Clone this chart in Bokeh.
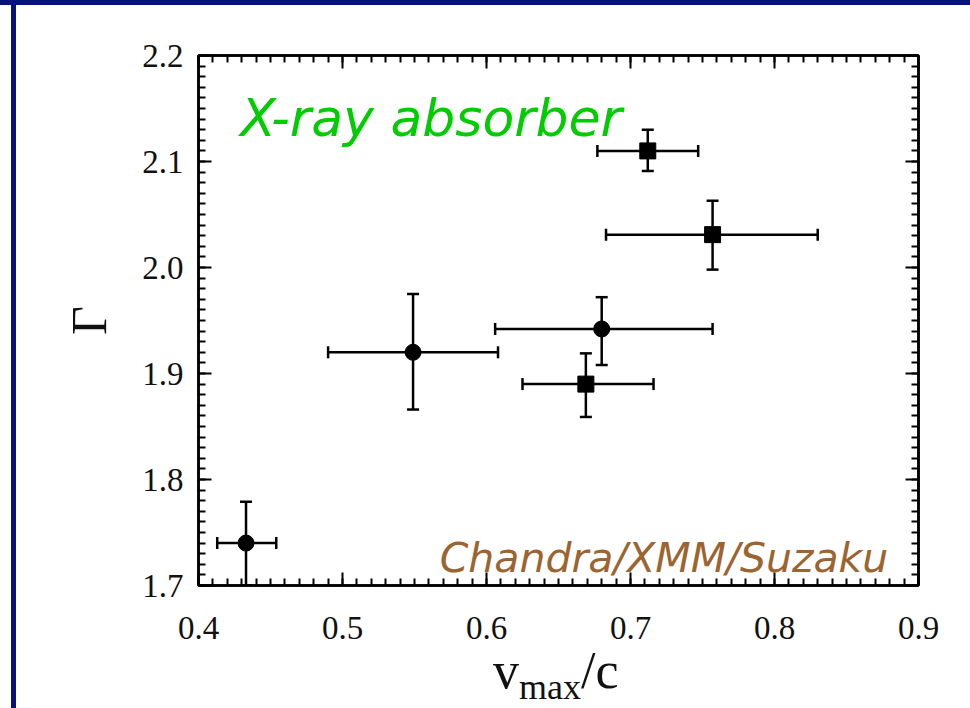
import numpy as np
from bokeh.plotting import figure
from bokeh.models import Range1d, FixedTicker, LinearAxis, Label, Div
from bokeh.layouts import column, row
from bokeh.embed import file_html
from bokeh.resources import INLINE

# ---- data ----
circ_x = [0.433, 0.549, 0.680]
circ_y = [1.740, 1.920, 1.942]
circ_xlo = [0.413, 0.490, 0.606]
circ_xhi = [0.454, 0.608, 0.757]
circ_ylo = [1.700, 1.866, 1.908]
circ_yhi = [1.779, 1.975, 1.972]

sq_x = [0.669, 0.712, 0.757]
sq_y = [1.890, 2.110, 2.031]
sq_xlo = [0.625, 0.677, 0.683]
sq_xhi = [0.716, 0.747, 0.830]
sq_ylo = [1.859, 2.091, 1.998]
sq_yhi = [1.919, 2.130, 2.063]

x_ticks = [0.4, 0.5, 0.6, 0.7, 0.8, 0.9]
x_tick_labels = ["0.4", "0.5", "0.6", "0.7", "0.8", "0.9"]
y_ticks = [1.7, 1.8, 1.9, 2.0, 2.1, 2.2]
y_tick_labels = ["1.7", "1.8", "1.9", "2.0", "2.1", "2.2"]

NAVY = "#05137a"
SERIF = "Liberation Serif"

p = figure(width=954, height=650, output_backend="svg", toolbar_location=None,
           x_range=Range1d(0.4, 0.9), y_range=Range1d(1.7, 2.2),
           min_border_left=182, min_border_right=52, min_border_top=50, min_border_bottom=70)
p.grid.visible = False
p.outline_line_color = "black"
p.outline_line_width = 2.5
p.background_fill_color = "white"
p.border_fill_color = "white"

x_minor = [round(v, 3) for v in np.arange(0.4, 0.9001, 0.01)]
y_minor = [round(v, 3) for v in np.arange(1.7, 2.2001, 0.01)]


def style_axis(ax, ticks, minor, labels, show_labels):
    ax.ticker = FixedTicker(ticks=ticks, minor_ticks=minor)
    ax.major_tick_in = 13
    ax.major_tick_out = 0
    ax.minor_tick_in = 7
    ax.minor_tick_out = 0
    ax.major_tick_line_width = 2
    ax.minor_tick_line_width = 2
    ax.axis_line_width = 2.5
    ax.major_tick_line_color = "black"
    ax.minor_tick_line_color = "black"
    ax.axis_line_color = "black"
    if show_labels:
        ax.major_label_overrides = {t: l for t, l in zip(ticks, labels)}
        ax.major_label_text_font = SERIF
        ax.major_label_text_font_size = "33px"
        ax.major_label_text_color = "#111111"
    else:
        ax.major_label_overrides = {t: "" for t in ticks}
        ax.major_label_standoff = 0


style_axis(p.xaxis[0], x_ticks, x_minor, x_tick_labels, True)
style_axis(p.yaxis[0], y_ticks, y_minor, y_tick_labels, True)
p.xaxis[0].major_label_standoff = 31
p.yaxis[0].major_label_standoff = 15

p.yaxis[0].axis_label = "Γ"
p.yaxis[0].axis_label_text_font = SERIF
p.yaxis[0].axis_label_text_font_size = "50px"
p.yaxis[0].axis_label_text_font_style = "normal"
p.yaxis[0].axis_label_text_color = "#111111"
p.yaxis[0].axis_label_standoff = 22

top_ax = LinearAxis()
style_axis(top_ax, x_ticks, x_minor, x_tick_labels, False)
p.add_layout(top_ax, "above")
right_ax = LinearAxis()
style_axis(right_ax, y_ticks, y_minor, y_tick_labels, False)
p.add_layout(right_ax, "right")

# error bars
for xs, ys, xlo, xhi, ylo, yhi in [(circ_x, circ_y, circ_xlo, circ_xhi, circ_ylo, circ_yhi),
                                   (sq_x, sq_y, sq_xlo, sq_xhi, sq_ylo, sq_yhi)]:
    p.segment(x0=xlo, y0=ys, x1=xhi, y1=ys, line_color="black", line_width=2.5)
    p.segment(x0=xs, y0=ylo, x1=xs, y1=yhi, line_color="black", line_width=2.5)
    p.scatter(x=xlo + xhi, y=ys + ys, marker="dash", angle=np.pi / 2, size=12,
              line_color="black", line_width=2.5)
    p.scatter(x=xs + xs, y=ylo + yhi, marker="dash", size=12,
              line_color="black", line_width=2.5)

p.scatter(x=circ_x, y=circ_y, marker="circle", size=16, fill_color="black", line_color="black")
p.scatter(x=sq_x, y=sq_y, marker="square", size=16, fill_color="black", line_color="black")

# annotations
p.add_layout(Label(x=0.429, y=2.1415, text="X-ray absorber", text_color="#00cc00",
                   text_font="DejaVu Sans", text_font_style="italic", text_font_size="52px",
                   text_baseline="alphabetic", text_align="left"))
p.add_layout(Label(x=0.879, y=1.7264, text="Chandra/XMM/Suzaku", text_color="#9b6430",
                   text_font="DejaVu Sans", text_font_style="italic", text_font_size="41px",
                   text_baseline="alphabetic", text_align="right"))

# x-axis label: v_max/c (HTML text below the figure)
xlabel = Div(
    text=('<div style="font-family:\'Liberation Serif\',serif; font-size:52px; line-height:31px; '
          'color:#111111; padding-left:477px; white-space:nowrap;">v'
          '<span style="font-size:36px; position:relative; top:11px;">max</span>/c</div>'),
    width=954, height=53, margin=0)

top_bar = Div(width=970, height=5, styles={"background-color": NAVY}, margin=0)
left_gap = Div(width=11, height=703, styles={"background-color": "white"}, margin=0)
left_bar = Div(width=5, height=703, styles={"background-color": NAVY}, margin=0)
layout = column(top_bar, row(left_gap, left_bar, column(p, xlabel, spacing=0), spacing=0), spacing=0)

open("out.html", "w").write(file_html(layout, INLINE))
